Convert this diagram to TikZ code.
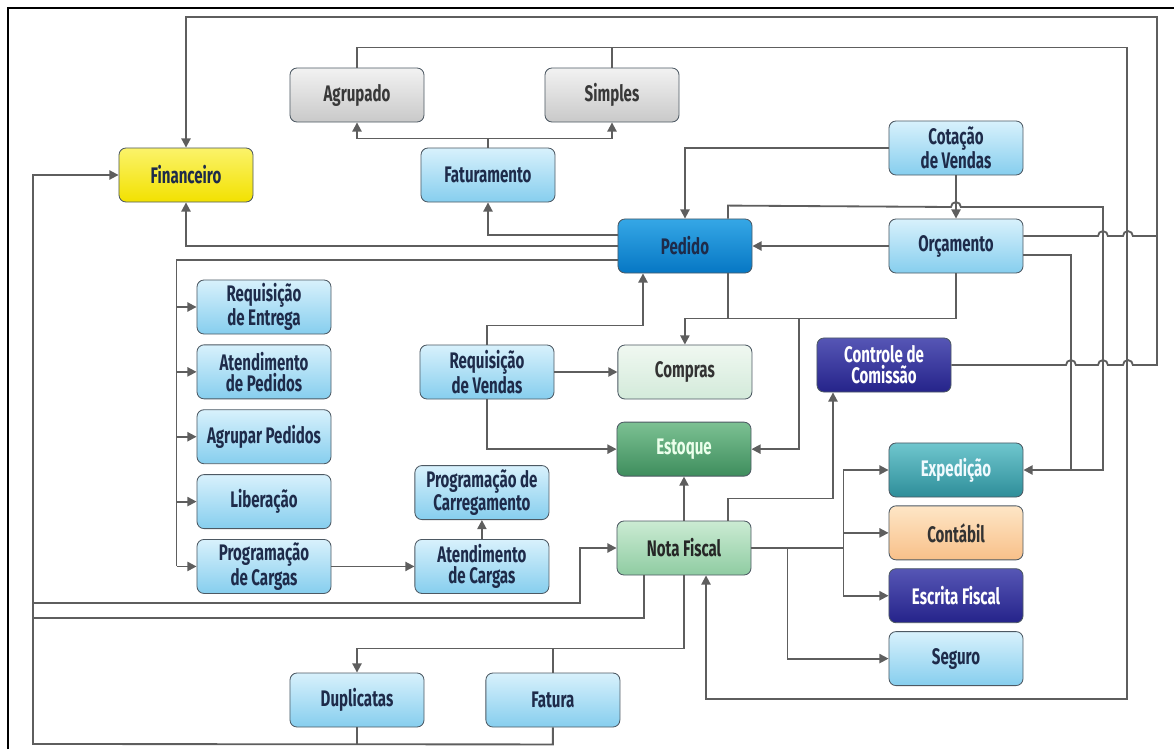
\documentclass[tikz,border=0pt]{standalone}
\usepackage{fontspec}
\newfontfamily\boxfont[FakeStretch=0.67]{Fira Sans}
\usepackage{tikz}
\usetikzlibrary{arrows.meta, positioning}

\definecolor{wiregray}{HTML}{5E5E5E}
\definecolor{edgegray}{HTML}{4D5963}
\definecolor{navytext}{HTML}{1E2B4A}
\definecolor{lbtop}{HTML}{D8F1FC}
\definecolor{lbbot}{HTML}{86CEEE}
\definecolor{pedtop}{HTML}{35A7E6}
\definecolor{pedbot}{HTML}{0677C4}
\definecolor{grtop}{HTML}{F2F2F2}
\definecolor{grbot}{HTML}{C9C9C9}
\definecolor{yetop}{HTML}{FBF36A}
\definecolor{yebot}{HTML}{F2E100}
\definecolor{cptop}{HTML}{F0F8F1}
\definecolor{cpbot}{HTML}{D3EADA}
\definecolor{estop}{HTML}{7CC193}
\definecolor{esbot}{HTML}{3E8D5D}
\definecolor{nftop}{HTML}{CBEBD3}
\definecolor{nfbot}{HTML}{8FCCA2}
\definecolor{nvtop}{HTML}{5656B5}
\definecolor{nvbot}{HTML}{25238A}
\definecolor{tltop}{HTML}{6FC6CE}
\definecolor{tlbot}{HTML}{2E8E99}
\definecolor{ortop}{HTML}{FEE6C6}
\definecolor{orbot}{HTML}{F8C089}

\begin{document}
\begin{tikzpicture}[
                x=0.025cm, y=-0.025cm,
                box/.style={draw=edgegray, line width=0.6pt, rounded corners=5pt, minimum width=3.35cm, minimum height=1.35cm, inner sep=1pt, align=center, font={\boxfont\bfseries\fontsize{16}{14.8}\selectfont}},
                light/.style={box, top color=lbtop, bottom color=lbbot, text=navytext},
                grey/.style={box, top color=grtop, bottom color=grbot, text=black!78},
                dark/.style={box, top color=nvtop, bottom color=nvbot, text=white},
                wire/.style={draw=wiregray, line width=1.3pt},
                feed/.style={wire, -{Triangle[length=6.5pt,width=6.5pt]}},
            ]
                \useasboundingbox (0,0) rectangle (1174,749);
                \draw[black, line width=1.3pt] (8,749) -- (8,8) -- (1174,8);

                % Boxes
                \node[box, top color=yetop, bottom color=yebot, text=navytext] (fin) at (186,175) {Financeiro};
                \node[grey] (agrup) at (357,95) {Agrupado};
                \node[grey] (simp) at (612,95) {Simples};
                \node[light] (fatur) at (488,175) {Faturamento};
                \node[light] (cot) at (956,148) {Cotação\\de Vendas};
                \node[box, top color=pedtop, bottom color=pedbot, text=navytext] (ped) at (685,246) {Pedido};
                \node[light] (orc) at (956,246) {Orçamento};

                % Left column
                \node[light] (reqent) at (264,307) {Requisição\\de Entrega};
                \node[light, below=0.25cm of reqent] (atped) {Atendimento\\de Pedidos};
                \node[light, below=0.25cm of atped] (agped) {Agrupar Pedidos};
                \node[light, below=0.25cm of agped] (lib) {Liberação};
                \node[light, below=0.25cm of lib] (progc) {Programação\\de Cargas};
                \node[light, right=2.075cm of progc] (atc) {Atendimento\\de Cargas};
                \node[light, above=0.475cm of atc] (pcar) {Programação de\\Carregamento};

                % Middle
                \node[light] (rv) at (487,372) {Requisição\\de Vendas};
                \node[box, right=1.575cm of rv, top color=cptop, bottom color=cpbot, text=black!80] (comp) {Compras};
                \node[box, top color=nftop, bottom color=nfbot, text=black!85] (nf) at (684,548) {Nota Fiscal};
                \node[box, above=1.1cm of nf, top color=estop, bottom color=esbot, text=white!92!green] (est) {Estoque};
                \node[dark] (cc) at (884,365) {Controle de\\Comissão};

                % Right column
                \node[box, top color=tltop, bottom color=tlbot, text=white!94!cyan] (exp) at (956,470) {Expedição};
                \node[box, below=0.2cm of exp, top color=ortop, bottom color=orbot, text=black!80] (cont) {Contábil};
                \node[dark, below=0.2cm of cont] (escf) {Escrita Fiscal};
                \node[light, below=0.2cm of escf] (seg) {Seguro};

                % Bottom
                \node[light] (dup) at (357,700) {Duplicatas};
                \node[light, right=1.525cm of dup] (fat) {Fatura};

                % Faturamento split
                \draw[feed] (fatur.north) -- ++(0,-9) -| (agrup.south);
                \draw[feed] (fatur.north) -- ++(0,-9) -| (simp.south);

                % Agrupado / Simples back to Nota Fiscal
                \draw[feed] (agrup.north) -- ++(0,-20) -| (1127,699) -| ([xshift=0.55cm]nf.south);
                \draw[wire] (simp.north) -- ++(0,-20);

                % Comissao and Orcamento up to Financeiro
                \draw[feed] (cc.east) -- (1066,365) arc[start angle=180, end angle=0, radius=3.5pt]
                    -- (1098,365) arc[start angle=180, end angle=0, radius=3.5pt]
                    -- (1123,365) arc[start angle=180, end angle=0, radius=3.5pt]
                    -- (1157,365) -- (1157,17) -| (fin.north);
                \draw[wire] ([yshift=0.25cm]orc.east) -- (1098,236) arc[start angle=180, end angle=0, radius=3.5pt]
                    -- (1123,236) arc[start angle=180, end angle=0, radius=3.5pt] -- (1157,236);

                % Pedido and Orcamento to Expedicao
                \draw[feed] ([xshift=1.075cm]ped.north) -- ++(0,-13) -- (951,207) arc[start angle=180, end angle=0, radius=3.5pt]
                    -- (1103,207) |- (exp.east);
                \draw[wire] ([yshift=-0.225cm]orc.east) -| (1071,470);

                % Cotacao
                \draw[feed] (cot.south) -- (orc.north);
                \draw[feed] (cot.west) -| (ped.north);
                \draw[feed] (orc.west) -- (ped.east);

                % Pedido to the left
                \draw[feed] ([yshift=0.275cm]ped.west) -| (fatur.south);
                \draw[feed] (ped.west) -| (fin.south);
                \draw[wire] ([yshift=-0.35cm]ped.west) -| ([xshift=-0.5cm]progc.west);
                \foreach \b in {reqent, atped, agped, lib, progc}
                    \draw[feed] ([xshift=-0.5cm]\b.west) -- (\b.west);

                % Compras and Estoque
                \coordinate (split) at (799,318);
                \draw[wire] ([xshift=1.075cm]ped.south) -- ++(0,45);
                \draw[feed] (orc.south) -- ++(0,45) -| (comp.north);
                \draw[feed] (split) |- (est.east);

                % Requisicao de Vendas
                \draw[feed] (rv.north) -- ++(0,-19) -| ([xshift=-1.05cm]ped.south);
                \draw[feed] (rv.east) -- (comp.west);
                \draw[feed] (rv.south) |- (est.west);

                % Cargas
                \draw[feed] (progc.east) -- (atc.west);
                \draw[feed] (atc.north) -- (pcar.south);

                % Nota Fiscal outputs
                \draw[feed] (nf.north) -- (est.south);
                \draw[feed] ([xshift=1.1cm]nf.north) -- ++(0,-22) -| ([xshift=-1.275cm]cc.south);
                \foreach \b in {exp, cont, escf}
                    \draw[feed] (nf.east) -- ++(92,0) |- (\b.west);
                \draw[feed] (nf.east) -- ++(36,0) |- (seg.west);

                % Duplicatas, Fatura and the left loop
                \draw[feed] (nf.south) -- ++(0,73) -| (dup.north);
                \draw[wire] (fat.north) -- ++(0,-24);
                \draw[wire] (dup.south) -- ++(0,17);
                \draw[feed] (fat.south) -- ++(0,17) -- (33,744) |- (fin.west);
                \draw[wire] ([xshift=-1cm]nf.south) |- (33,618);
                \draw[feed] (33,603) -- (580,603) |- (nf.west);
            \end{tikzpicture}
\end{document}
